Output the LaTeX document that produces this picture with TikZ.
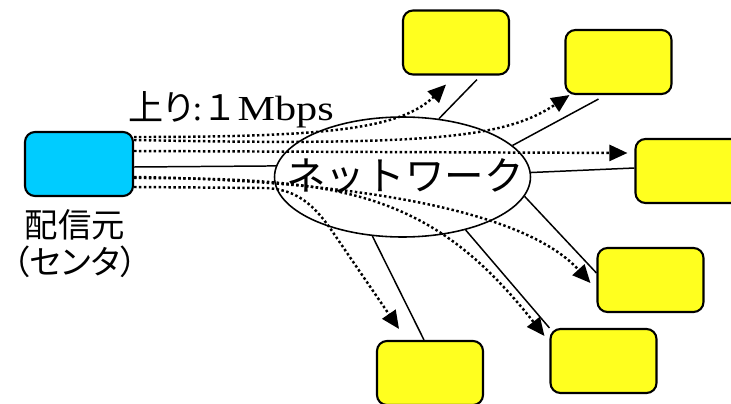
\documentclass[tikz,border=0pt]{standalone}
\usepackage{fontspec}
\setmainfont{Liberation Serif}
\newfontfamily\jpfont{Noto Sans CJK JP}
\newfontfamily\jpprop[RawFeature=+palt]{Noto Sans CJK JP}
\usetikzlibrary{shapes.geometric, arrows.meta, positioning, calc}
\definecolor{SrcCyan}{HTML}{00CCFF}
\definecolor{RcvYellow}{HTML}{FFFF1F}
\tikzset{
    % Boxes - rounded corners
    srcbox/.style={
        rectangle,
        rounded corners=0.2cm,
        draw=black,
        fill=SrcCyan,
        line width=1.2pt,
        minimum width=2.16cm,
        minimum height=1.28cm
    },
    rcvbox/.style={
        rectangle,
        rounded corners=0.2cm,
        draw=black,
        fill=RcvYellow,
        line width=1.2pt,
        minimum width=2.12cm,
        minimum height=1.28cm
    },
    netring/.style={
        ellipse,
        draw=black,
        line width=0.9pt,
        inner sep=0pt,
        minimum width=5.12cm,
        minimum height=2.4cm
    },
    % Line styles
    link/.style={
        line width=0.85pt,
        draw=black
    },
    flow/.style={
        -{Triangle[length=0.36cm, width=0.32cm]},
        line width=1.4pt,
        dash pattern=on 1.4pt off 1.4pt,
        draw=black
    }
}

\begin{document}
\begin{tikzpicture}[x=0.02cm, y=-0.02cm]
    \useasboundingbox (0,0) rectangle (731,403);

    % Sender
    \node[srcbox] (src) at (79,164) {};
    \node[font={\jpfont\fontsize{19}{22}\selectfont}] (srcname) at (75,225) {配信元};
    \node[font={\jpprop\fontsize{19}{22}\selectfont}] (srcrole) at (75,262) {（センタ）};

    % Network
    \node[netring] (net) at (402.5,177) {};
    \node[font={\jpfont\fontsize{22.5}{26}\selectfont}] (nettext) at (405,176) {ネットワーク};

    % Receivers
    \node[rcvbox] (rx1) at (456,42.5) {};
    \node[rcvbox] (rx2) at (618.5,62) {};
    \node[rcvbox] (rx3) at (688.5,171) {};
    \node[rcvbox] (rx4) at (650.5,280) {};
    \node[rcvbox] (rx5) at (603.5,361) {};
    \node[rcvbox] (rx6) at (430,373) {};

    % Rate label
    \node[anchor=base west, inner sep=0pt, font=\fontsize{20}{24}\selectfont] (rate) at (128,120)
        {{\jpprop 上り}:{\jpfont １}\scalebox{1.2}[1]{Mbps}};

    % Physical links
    \draw[link] ([shift={(0,3)}]src.east) -- (net.175.5);
    \draw[link] (net.58.8) -- ([shift={(21,4)}]rx1.south);
    \draw[link] (net.16.3) -- ([shift={(-20,4)}]rx2.south);
    \draw[link] (net.2) -- ([shift={(0,-3)}]rx3.west);
    \draw[link] (net.-9) -- ([shift={(0,-7)}]rx4.west);
    \draw[link] (net.-40.8) -- (rx5.north west);
    \draw[link] (net.-117.3) -- ([shift={(-6,0)}]rx6.north);

    % Streams
    \draw[flow] ([shift={(0,-27)}]src.east) .. controls (320,137) and (400,130) .. ([shift={(-10,9)}]rx1.south);
    \draw[flow] ([shift={(0,-24)}]src.east) .. controls (430,146) and (505,138) .. ([shift={(5,0)}]rx2.south west);
    \draw[flow] ([shift={(0,-13)}]src.east) -- ([shift={(-7,-18)}]rx3.west);
    \draw[flow] ([shift={(0,13)}]src.east) .. controls (330,180) and (520,205) .. ([shift={(-6,3)}]rx4.west);
    \draw[flow] ([shift={(0,14)}]src.east) .. controls (340,178) and (430,190) .. ([shift={(-5,8)}]rx5.north west);
    \draw[flow] ([shift={(0,23)}]src.east) -- (265,188) .. controls (295,189) and (312,203) .. (330,228) -- ([shift={(-31,-11)}]rx6.north);
\end{tikzpicture}
\end{document}
